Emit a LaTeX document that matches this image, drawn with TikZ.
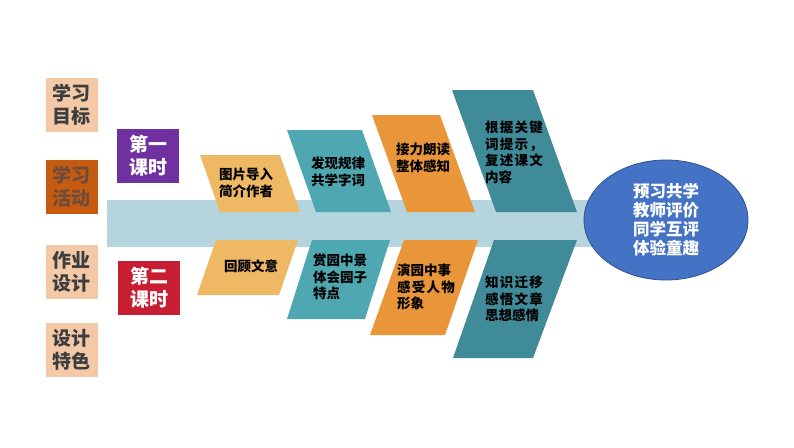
\documentclass[tikz,border=0pt]{standalone}
\usepackage{fontspec}
\newfontfamily\cjk{Noto Sans CJK SC}
\usetikzlibrary{shapes.geometric}

\definecolor{peach}{HTML}{F4C9A8}
\definecolor{rust}{HTML}{C55A11}
\definecolor{rustink}{HTML}{6E4B3A}
\definecolor{lessonA}{HTML}{7030A0}
\definecolor{lessonB}{HTML}{C81E32}
\definecolor{spine}{HTML}{B4D5DD}
\definecolor{boneA}{HTML}{EFB865}
\definecolor{boneB}{HTML}{4FA7B1}
\definecolor{boneC}{HTML}{E9963A}
\definecolor{boneD}{HTML}{408B99}
\definecolor{goal}{HTML}{4472C4}
\definecolor{goalline}{HTML}{2F528F}
\definecolor{ink}{HTML}{3D3D3D}

% 字距稍宽的行
\newcommand{\wide}[1]{{\addfontfeature{LetterSpace=9}#1}}

\tikzset{
  sidebox/.style={rectangle, fill=peach, text=ink, minimum width=52pt, minimum height=54pt,
    inner sep=0pt, align=center, font=\cjk\bfseries\fontsize{19}{23}\selectfont},
  lesson/.style={rectangle, text=white, minimum width=62pt, minimum height=54pt,
    inner sep=0pt, align=center, font=\cjk\bfseries\fontsize{19}{23}\selectfont},
  bonetext/.style={inner sep=0pt, text=black, font=\cjk\bfseries\fontsize{13.5}{16.5}\selectfont},
}

\begin{document}
\begin{tikzpicture}[x=1pt, y=-1pt]
    % 画布
    \useasboundingbox (0,0) rectangle (794,447);

    % 主干
    \fill[spine] (107,200) rectangle (640,247);

    % 上排鱼骨
    \fill[boneA] (200,155) -- (280,155) -- (300,212) -- (220,212) -- cycle;
    \fill[boneB] (287,130) -- (362,130) -- (391,212) -- (316,212) -- cycle;
    \fill[boneC] (372,115) -- (440,115) -- (475,212) -- (407,212) -- cycle;
    \fill[boneD] (452,90) -- (533,90) -- (577,212) -- (496,212) -- cycle;

    % 下排鱼骨
    \fill[boneA] (216,240) -- (298,240) -- (279,295) -- (197,295) -- cycle;
    \fill[boneB] (312,240) -- (390,240) -- (365,319) -- (287,319) -- cycle;
    \fill[boneC] (404,240) -- (478,240) -- (445,335) -- (370,335) -- cycle;
    \fill[boneD] (494,240) -- (577,240) -- (533,358) -- (453,358) -- cycle;

    % 鱼头
    \node[ellipse, fill=goal, draw=goalline, line width=0.8pt, minimum width=164pt,
      minimum height=120pt, text=white, align=center,
      font=\cjk\bfseries\fontsize{16.5}{19}\selectfont] (head) at (666,220)
      {预习共学\\教师评价\\同学互评\\体验童趣};

    % 左侧栏目
    \node[sidebox] (aim) at (71.5,104.5) {学习\\目标};
    \node[sidebox, fill=rust, text=rustink] (act) at (71.5,187) {学习\\活动};
    \node[sidebox] (work) at (71.5,272) {作业\\设计};
    \node[sidebox] (feat) at (71.5,350) {设计\\特色};

    % 课时
    \node[lesson, fill=lessonA] (one) at (148,156) {第一\\课时};
    \node[lesson, fill=lessonB] (two) at (149,288) {第二\\课时};

    % 上排文字
    \node[bonetext, align=center] (t1) at (246,183) {图片导入\\简介作者};
    \node[bonetext, align=center] (t2) at (338,172) {发现规律\\共学字词};
    \node[bonetext, align=center] (t3) at (423,158) {接力朗读\\整体感知};
    \node[bonetext, align=left, anchor=north west] (t4) at (485,121)
      {\wide{根据关键}\\\wide{词提示，}\\\wide{复述课文}\\内容};

    % 下排文字
    \node[bonetext] (b1) at (251,266) {回顾文意};
    \node[bonetext, align=left, anchor=north west] (b2) at (313,254)
      {赏园中景\\体会园子\\特点};
    \node[bonetext, align=left, anchor=north west] (b3) at (397,264)
      {演园中事\\\wide{感受人物}\\形象};
    \node[bonetext, align=left, anchor=north west] (b4) at (485,276)
      {\wide{知识迁移}\\\wide{感悟文章}\\思想感情};
\end{tikzpicture}
\end{document}
